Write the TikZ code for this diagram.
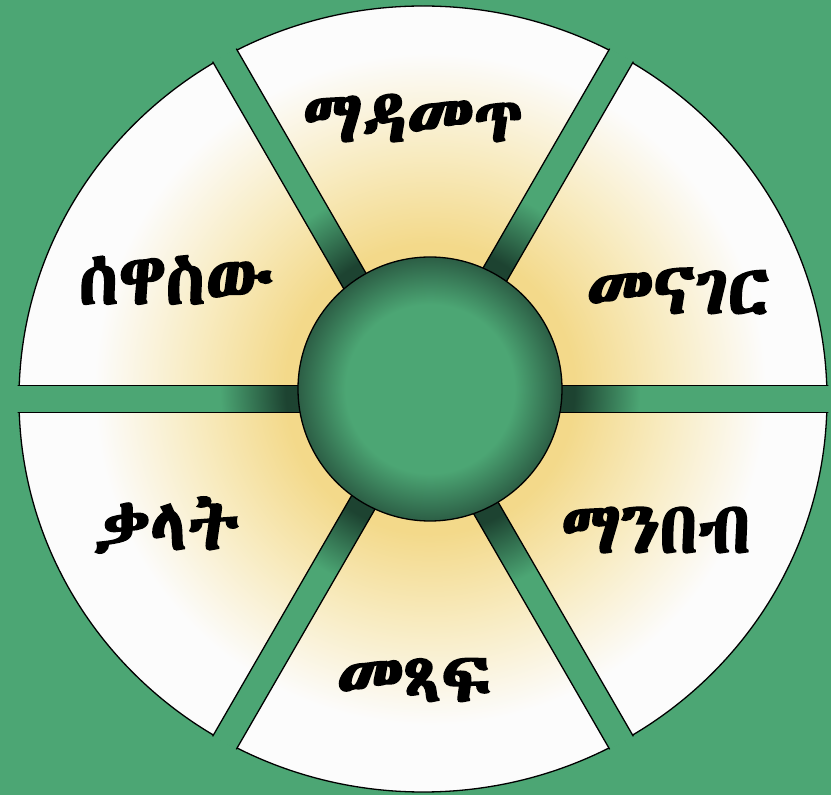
\documentclass[tikz,border=0pt]{standalone}
\usepackage{fontspec}
\IfFontExistsTF{Abyssinica SIL}{\newfontfamily\ethfont{Abyssinica SIL}[FakeBold=2.5]}{%
  \IfFontExistsTF{Noto Sans Ethiopic}{\newfontfamily\ethfont{Noto Sans Ethiopic}[FakeBold=2.5]}{%
    \IfFontExistsTF{FreeSerif}{\newfontfamily\ethfont{FreeSerif}[FakeBold=3]}{%
      \newfontfamily\ethfont{DejaVu Sans}}}}
\definecolor{bggreen}{HTML}{4CA674}
\definecolor{gapdark}{HTML}{1D4331}
\definecolor{rimdark}{HTML}{2C5E45}
\definecolor{glowgold}{HTML}{F3D98A}
\definecolor{glowmid}{HTML}{F8EBC0}
\definecolor{segwhite}{HTML}{FCFCFC}
\pgfdeclareradialshading{segglow}{\pgfpoint{0bp}{0bp}}{color(0bp)=(glowgold); color(8.6bp)=(glowgold); color(14bp)=(glowmid); color(20bp)=(segwhite); color(50bp)=(segwhite)}
\pgfdeclareradialshading{gapglow}{\pgfpoint{0bp}{0bp}}{color(0bp)=(gapdark); color(8.6bp)=(gapdark); color(12.5bp)=(bggreen); color(50bp)=(bggreen)}
\pgfdeclareradialshading{hubglow}{\pgfpoint{0bp}{0bp}}{color(0bp)=(bggreen); color(16bp)=(bggreen); color(25bp)=(rimdark); color(50bp)=(rimdark)}
\tikzset{
  outline/.style={line width=1.3pt,black},
  skill/.style={font=\ethfont\fontsize{72}{80}\selectfont,inner sep=0pt}
}
\begin{document}
\begin{tikzpicture}[x=1pt,y=1pt]
  \useasboundingbox (-423,-396) rectangle (408,399);
  \fill[bggreen] (-423,-396) rectangle (408,399);
  \begin{scope}
    \clip (0,0) ellipse (404 and 393);
    \shade[shading=segglow] (7,10) circle (420);
  \end{scope}
  \draw[outline] (0,0) ellipse (404 and 393);
  \begin{scope}
    \clip (0,0) ellipse (405.5 and 394.5);
    \foreach \a in {0,60,...,300}{
      \begin{scope}
        \clip[rotate=\a] (0,-13.5) rectangle (420,13.5);
        \shade[shading=gapglow] (7,10) circle (420);
      \end{scope}
      \draw[outline,rotate=\a] (0,-13.5) -- (420,-13.5) (0,13.5) -- (420,13.5);
    }
  \end{scope}
  \shade[shading=hubglow] (7,10) circle (132);
  \draw[outline] (7,10) circle (132);
  \node[skill] (listen) at (-10,281) {ማዳመጥ};
  \node[skill] (speak) at (255,108) {መናገር};
  \node[skill] (read) at (233,-131) {ማንበብ};
  \node[skill] (write) at (-9,-281) {መጻፍ};
  \node[skill] (words) at (-257,-126) {ቃላት};
  \node[skill] (grammar) at (-247,119) {ሰዋስው};
\end{tikzpicture}
\end{document}
